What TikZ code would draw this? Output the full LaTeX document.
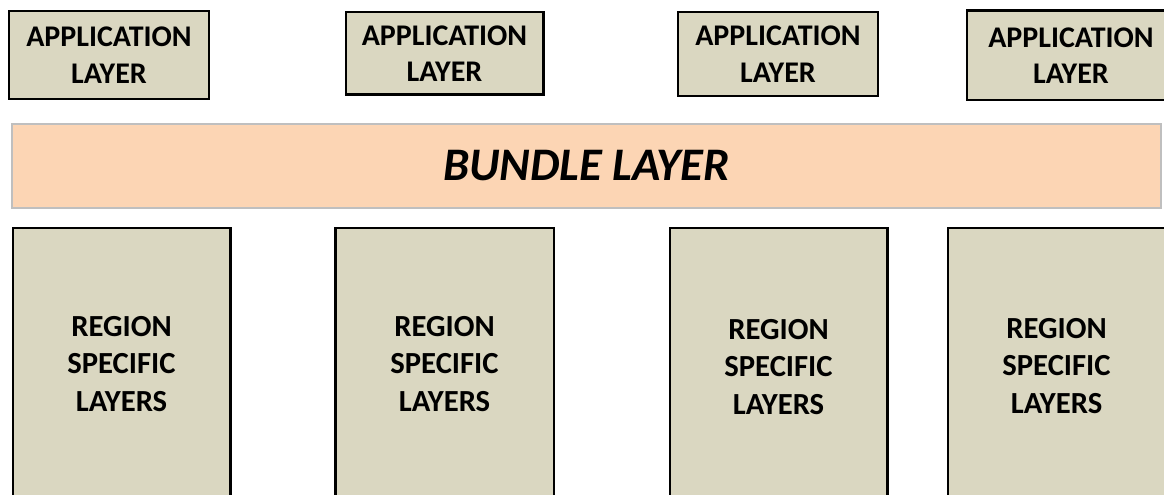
\documentclass[tikz,border=0pt]{standalone}
\usepackage{fontspec}
\setmainfont{Carlito}
\definecolor{layerbeige}{HTML}{DAD7C1}
\definecolor{bundlepeach}{HTML}{FCD5B4}
\definecolor{bundleedge}{HTML}{BFBFBF}
\tikzset{
  appbox/.style={draw=black, line width=2pt, fill=layerbeige, inner sep=0pt,
    align=center, font=\fontsize{22.5}{27.5}\selectfont\bfseries},
  regionbox/.style={draw=black, line width=2pt, fill=layerbeige, inner sep=0pt,
    align=center, minimum width=163pt, minimum height=204pt,
    font=\fontsize{23}{28}\selectfont\bfseries},
  bundlebox/.style={draw=bundleedge, line width=1.5pt, fill=bundlepeach,
    inner sep=0pt, font=\fontsize{35}{40}\selectfont\bfseries\itshape}
}
\begin{document}
\begin{tikzpicture}[x=0.75pt, y=-0.75pt]
\useasboundingbox (0,0) rectangle (1164,495);
\clip (0,0) rectangle (1164,495);
% application layers
\node[appbox, minimum width=150pt, minimum height=66pt] (app1) at (109,55) {APPLICATION\\LAYER};
\node[appbox, minimum width=148pt, minimum height=62pt] (app2) at (444.5,53.5) {APPLICATION\\LAYER};
\node[appbox, minimum width=150pt, minimum height=63pt] (app3) at (778,54) {APPLICATION\\LAYER};
\node[appbox, minimum width=156pt, minimum height=67pt] (app4) at (1071,55.5) {APPLICATION\\LAYER};
% bundle layer
\node[bundlebox, minimum width=862pt, minimum height=63pt] (bundle) at (586.5,166) {BUNDLE LAYER};
% region specific layers
\node[regionbox] (reg1) at (121.5,364) {REGION\\SPECIFIC\\LAYERS};
\node[regionbox, minimum width=164pt] (reg2) at (444.5,364) {REGION\\SPECIFIC\\LAYERS};
\node[regionbox, minimum height=208.5pt] (reg3) at (778.5,367) {REGION\\SPECIFIC\\LAYERS};
\node[regionbox, minimum height=207pt] (reg4) at (1056.5,366) {REGION\\SPECIFIC\\LAYERS};
\end{tikzpicture}
\end{document}
